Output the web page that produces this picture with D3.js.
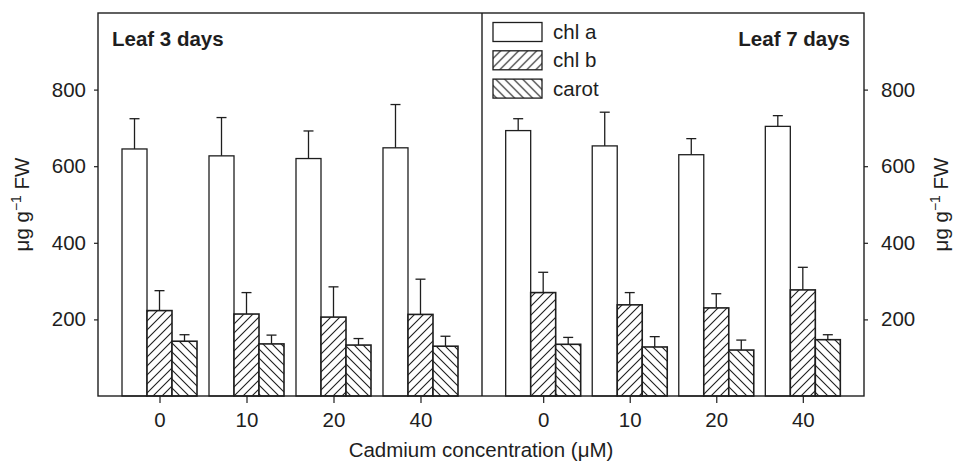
<!DOCTYPE html>
<html>
<head>
<meta charset="utf-8">
<script src="https://cdn.jsdelivr.net/npm/d3@7"></script>
<style>
  body { margin: 0; background: #fff; }
  svg { display: block; font-family: "Liberation Sans", Arial, Helvetica, sans-serif; }
</style>
</head>
<body>
<svg id="chart" width="958" height="465"></svg>
<script>
// ---- data ----
const categories = ["0", "10", "20", "40"];
const panels = ["Leaf 3 days", "Leaf 7 days"];
const seriesNames = ["chl a", "chl b", "carot"];
const yTicks = [200, 400, 600, 800];

const chlA3 = [645, 627, 620, 648];
const chlA3Err = [79, 100, 72, 113];
const chlB3 = [223, 214, 206, 213];
const chlB3Err = [52, 56, 79, 92];
const carot3 = [143, 136, 133, 130];
const carot3Err = [17, 23, 17, 26];

const chlA7 = [693, 653, 630, 704];
const chlA7Err = [31, 88, 42, 28];
const chlB7 = [270, 238, 230, 277];
const chlB7Err = [53, 32, 37, 59];
const carot7 = [135, 128, 120, 147];
const carot7Err = [18, 27, 26, 13];

const panelData = [
  { title: panels[0], series: [[chlA3, chlA3Err], [chlB3, chlB3Err], [carot3, carot3Err]] },
  { title: panels[1], series: [[chlA7, chlA7Err], [chlB7, chlB7Err], [carot7, carot7Err]] }
];

// ---- layout ----
const L = 98, R = 864, MID = 482, T = 13, B = 396;
const ink = "#1e1e1e";
const fs = "20.5px";
const svg = d3.select("#chart");

const defs = svg.append("defs");
function hatch(id, d) {
  const p = defs.append("pattern").attr("id", id)
    .attr("patternUnits", "userSpaceOnUse").attr("width", 9).attr("height", 9);
  p.append("rect").attr("width", 9).attr("height", 9).attr("fill", "#fff");
  p.append("path").attr("d", d).attr("stroke", ink).attr("stroke-width", 1.1).attr("fill", "none");
}
hatch("fwd", "M-2,2 l4,-4 M0,9 l9,-9 M7,11 l4,-4");
hatch("bwd", "M-2,7 l4,4 M0,0 l9,9 M7,-2 l4,4");
const fills = ["#fff", "url(#fwd)", "url(#bwd)"];

const y = d3.scaleLinear().domain([0, 1000]).range([B, T]);
const xPanels = [
  d3.scalePoint().domain(categories).range([L, MID]).padding(0.707),
  d3.scalePoint().domain(categories).range([MID, R]).padding(0.707)
];
const xs = d3.scaleBand().domain(seriesNames).range([-37.5, 37.5]).padding(0);

panelData.forEach((pd, pi) => {
  const x = xPanels[pi];
  const g = svg.append("g");
  pd.series.forEach(([vals, errs], si) => {
    categories.forEach((c, ci) => {
      const x0 = x(c) + xs(seriesNames[si]);
      const cx = x0 + xs.bandwidth() / 2;
      const v = vals[ci], e = errs[ci];
      g.append("line").attr("x1", cx).attr("x2", cx)
        .attr("y1", y(v)).attr("y2", y(v + e))
        .attr("stroke", ink).attr("stroke-width", 1.3);
      g.append("line").attr("x1", cx - 5).attr("x2", cx + 5)
        .attr("y1", y(v + e)).attr("y2", y(v + e))
        .attr("stroke", ink).attr("stroke-width", 1.3);
      g.append("rect").attr("x", x0).attr("y", y(v))
        .attr("width", xs.bandwidth()).attr("height", y(0) - y(v))
        .attr("fill", fills[si]).attr("stroke", ink).attr("stroke-width", si === 0 ? 1.3 : 1.6);
    });
  });
  const ax = svg.append("g").attr("transform", `translate(0,${B})`)
    .call(d3.axisBottom(x).tickSize(7).tickPadding(9));
  ax.select(".domain").remove();
  ax.selectAll("line").attr("stroke", ink).attr("stroke-width", 1.2);
  ax.selectAll("text").attr("fill", ink).style("font-size", fs);
});

const ay = svg.append("g").attr("transform", `translate(${L},0)`)
  .call(d3.axisLeft(y).tickValues(yTicks).tickSize(4).tickPadding(8));
const ay2 = svg.append("g").attr("transform", `translate(${R},0)`)
  .call(d3.axisRight(y).tickValues(yTicks).tickSize(4).tickPadding(13));
[ay, ay2].forEach(a => {
  a.select(".domain").remove();
  a.selectAll("line").attr("stroke", ink).attr("stroke-width", 1.2);
  a.selectAll("text").attr("fill", ink).style("font-size", fs);
});

svg.append("rect").attr("x", L).attr("y", T).attr("width", R - L).attr("height", B - T)
  .attr("fill", "none").attr("stroke", ink).attr("stroke-width", 1.4);
svg.append("line").attr("x1", MID).attr("x2", MID).attr("y1", T).attr("y2", B)
  .attr("stroke", ink).attr("stroke-width", 1.4);

svg.append("text").attr("x", 112).attr("y", 46).text(panels[0])
  .attr("fill", ink).style("font-size", "20.5px").style("font-weight", "bold");
svg.append("text").attr("x", 850).attr("y", 46).attr("text-anchor", "end").text(panels[1])
  .attr("fill", ink).style("font-size", "20.5px").style("font-weight", "bold");

const lg = svg.append("g").attr("transform", "translate(493,22.5)");
seriesNames.forEach((s, i) => {
  lg.append("rect").attr("x", 0).attr("y", i * 28.3).attr("width", 49).attr("height", 19)
    .attr("fill", fills[i]).attr("stroke", ink).attr("stroke-width", 1.3);
  lg.append("text").attr("x", 60).attr("y", i * 28.3 + 16.5).text(s)
    .attr("fill", ink).style("font-size", fs);
});

svg.append("text").attr("x", (L + R) / 2).attr("y", 457).attr("text-anchor", "middle")
  .attr("fill", ink).style("font-size", fs).text("Cadmium concentration (μM)");

function yTitle(cx) {
  const t = svg.append("text").attr("transform", `translate(${cx},${(T + B) / 2}) rotate(-90)`)
    .attr("text-anchor", "middle").attr("fill", ink).style("font-size", fs);
  t.append("tspan").text("μg  g");
  t.append("tspan").attr("dy", -8).style("font-size", "14px").text("−1");
  t.append("tspan").attr("dy", 8).text(" FW");
}
yTitle(29);
yTitle(948);
</script>
</body>
</html>
